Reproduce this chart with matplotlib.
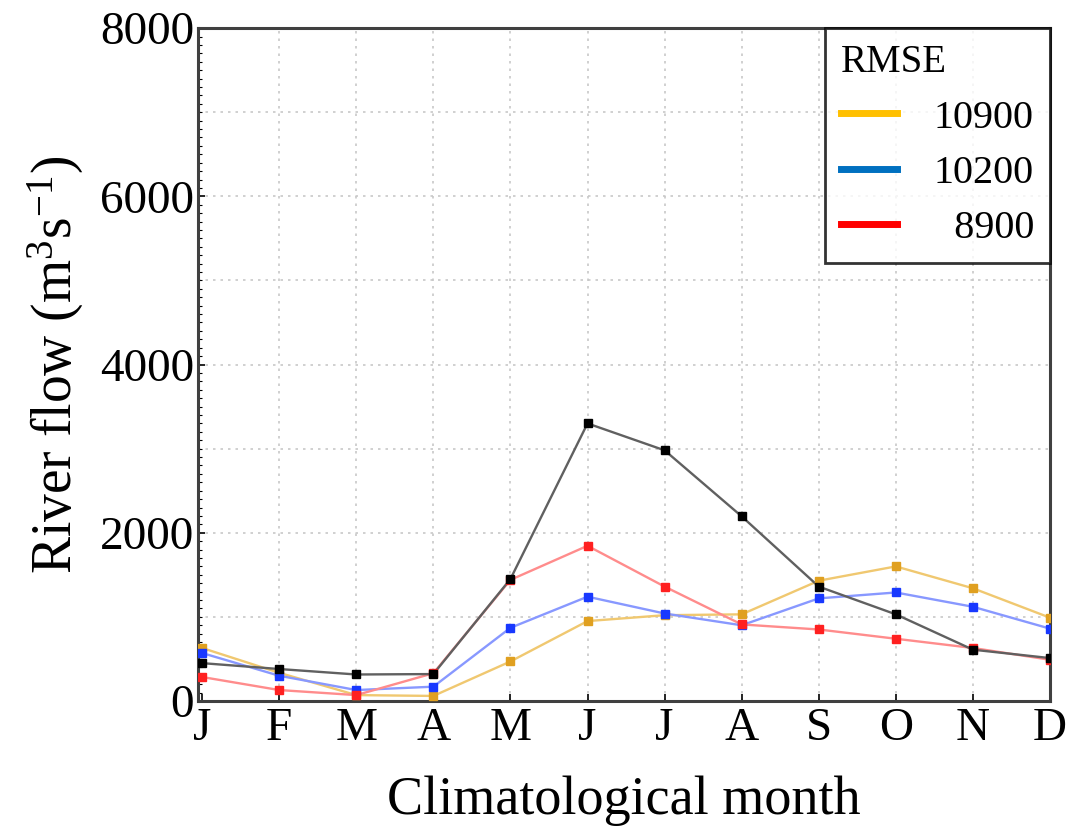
import numpy as np
import matplotlib
matplotlib.use("Agg")
import matplotlib.pyplot as plt
from matplotlib.lines import Line2D
from matplotlib.ticker import MultipleLocator

months = ["J", "F", "M", "A", "M", "J", "J", "A", "S", "O", "N", "D"]

observed = [450, 380, 315, 320, 1450, 3300, 2980, 2195, 1360, 1030, 610, 510]
run_10900 = [630, 335, 70, 60, 470, 950, 1020, 1030, 1430, 1600, 1340, 990]
run_10200 = [570, 300, 130, 170, 870, 1240, 1040, 900, 1220, 1290, 1120, 860]
run_8900 = [285, 130, 70, 330, 1440, 1845, 1360, 910, 850, 740, 630, 490]

legend_labels = ["10900", "10200", "  8900"]
legend_colors = ["#FFC000", "#0070C0", "#FF0000"]

SERIF = "Liberation Serif"
plt.rcParams["font.family"] = SERIF
plt.rcParams["mathtext.fontset"] = "custom"
plt.rcParams["mathtext.rm"] = SERIF
plt.rcParams["mathtext.it"] = SERIF + ":italic"
plt.rcParams["mathtext.bf"] = SERIF + ":bold"

fig = plt.figure(figsize=(10.66, 8.39), dpi=100)
ax = fig.add_axes([0.186, 0.1645, 0.799, 0.802])

x = np.arange(len(months))
series = [
    (run_10900, "#F0C870", "#E0A020"),
    (run_10200, "#8898FF", "#1838FF"),
    (run_8900, "#FF8C8C", "#FF2020"),
    (observed, "#606060", "#000000"),
]
for vals, lc, mc in series:
    ax.plot(x, vals, color=lc, lw=1.7, zorder=3)
    ax.plot(x, vals, ls="none", marker="s", ms=6, color=mc, zorder=4)

ax.set_xlim(-0.05, 11)
ax.set_ylim(0, 8000)
ax.set_xticks(x)
ax.set_xticklabels(months)
ax.set_yticks([0, 2000, 4000, 6000, 8000])
ax.yaxis.set_minor_locator(MultipleLocator(100))
ax.tick_params(axis="both", labelsize=34, direction="in", length=5, width=1.2, pad=3)
ax.tick_params(axis="y", which="minor", direction="in", length=3, width=0.8)
ax.tick_params(axis="x", pad=5)

for gy in range(1000, 8000, 1000):
    ax.axhline(gy, color="#c8c8c8", lw=1.2, ls=(0, (1.5, 3)), zorder=1)
for gx in x[1:-1]:
    ax.axvline(gx, color="#c8c8c8", lw=1.2, ls=(0, (1.5, 3)), zorder=1)

for s in ax.spines.values():
    s.set_color("#404040")
    s.set_linewidth(2.2)

ax.set_xlabel("Climatological month", fontsize=39, labelpad=18)
ax.set_ylabel(r"River flow (m$^{3}$s$^{\mathrm{-}1}$)", fontsize=40, labelpad=10)

handles = [Line2D([0], [0], color=c, lw=5) for c in legend_colors]
leg = ax.legend(handles, legend_labels, title="RMSE", loc="upper right",
                fontsize=29, title_fontsize=28, frameon=True, fancybox=False,
                handlelength=1.4, handletextpad=0.9, labelspacing=0.45,
                borderpad=0.4, borderaxespad=0.0)
leg.get_frame().set_edgecolor("#000000")
leg.get_frame().set_linewidth(2.0)
leg._legend_box.align = "left"

fig.savefig("out.png", dpi=100, facecolor="white")
